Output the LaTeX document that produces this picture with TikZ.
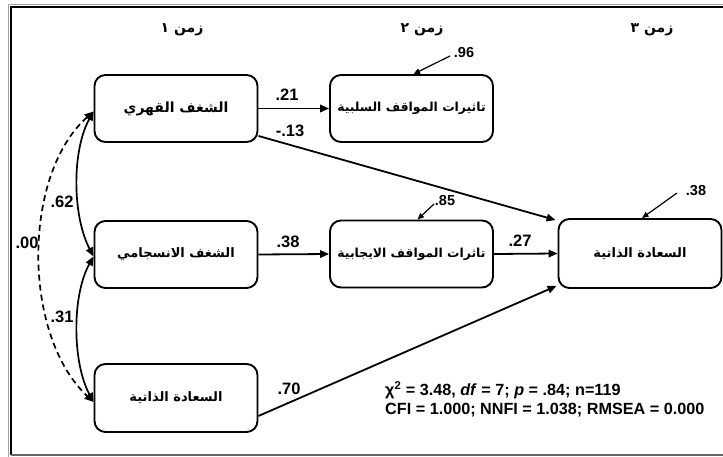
\documentclass[tikz,border=0pt]{standalone}
\usepackage{fontspec}
\setmainfont{Liberation Sans}
\newfontfamily\arabicfont[Script=Arabic]{DejaVu Sans}
\TeXXeTstate=1
\usetikzlibrary{arrows.meta,calc}
\begin{document}
\begin{tikzpicture}[x=1pt,y=-1pt,
  box/.style={draw, line width=1.9pt, rounded corners=11pt, minimum width=163pt, minimum height=67pt, inner sep=0pt,
    font=\arabicfont\bfseries\fontsize{13}{15}\selectfont},
  longtxt/.style={font=\arabicfont\bfseries\fontsize{12.4}{15}\selectfont},
  hdr/.style={inner sep=0pt, font=\arabicfont\bfseries\fontsize{14}{15}\selectfont},
  lab/.style={inner sep=0pt, font=\bfseries\fontsize{16.5}{18}\selectfont},
  slab/.style={inner sep=0pt, font=\bfseries\fontsize{14.5}{15}\selectfont},
  arr/.style={line width=1.8pt, -{Triangle[length=9pt,width=7.5pt]}},
  dbl/.style={line width=1.7pt, {Triangle[length=9pt,width=7.5pt]}-{Triangle[length=9pt,width=7.5pt]}},
  res/.style={line width=1.2pt, -{Triangle[length=6.5pt,width=5.5pt]}},
  stat/.style={inner sep=0pt, anchor=west, font=\bfseries\fontsize{16.2}{17}\selectfont}]
\useasboundingbox (0,0) rectangle (723,457);
\fill[white] (0,0) rectangle (723,457);
% frame
\draw[gray!70, line width=1.6pt] (740,4.5) -- (8.5,4.5) -- (8.5,460);
\draw[black, line width=1.6pt] (740,7) -- (11,7) -- (11,455);
\draw[black!60, line width=1.2pt] (11,455) -- (740,455);
% headers
\node[hdr] (h1) at (182,30) {\beginR زمن ١\endR};
\node[hdr] (h2) at (422,30) {\beginR زمن ٢\endR};
\node[hdr] (h3) at (652,30) {\beginR زمن ٣\endR};
% boxes
\node[box, font=\arabicfont\bfseries\fontsize{14}{15}\selectfont] (A) at (176,108.5) {\beginR الشغف القهري\endR};
\node[box, longtxt] (B) at (411.5,108.5) {\beginR تاثيرات المواقف السلبية\endR};
\node[box] (D) at (176,254.5) {\beginR الشغف الانسجامي\endR};
\node[box, longtxt] (E) at (411.5,254) {\beginR تاثرات المواقف الايجابية\endR};
\node[box, minimum height=69pt] (F) at (640,253.5) {\beginR السعادة الذاتية\endR};
\node[box, minimum height=68pt] (G) at (176,398) {\beginR السعادة الذاتية\endR};
% paths
\draw[arr] (A.east) -- (B.west);
\draw[arr] ([yshift=7pt]A.south east) -- ([yshift=-2pt,xshift=-2pt]F.north west);
\draw[arr] (D.east) -- (E.west);
\draw[arr] (E.east) -- (F.west);
\draw[arr] ([yshift=-18pt]G.east) -- ([yshift=3pt,xshift=-1pt]F.south west);
% correlations
\draw[dbl] ([yshift=-3pt]A.west) .. controls (72,150) and (72,215) .. ([yshift=-2pt]D.west);
\draw[dbl] ([yshift=-2pt]D.west) .. controls (72,295) and (72,362) .. ([yshift=-4pt]G.west);
\draw[dbl, dashed, dash pattern=on 6pt off 4pt] ([yshift=-3pt]A.west) .. controls (22,175) and (22,335) .. ([yshift=-4pt]G.west);
% path labels
\node[lab] (l21) at (287,95) {.21};
\node[lab] (l13) at (290,131) {-.13};
\node[lab] (l38) at (288,242) {.38};
\node[lab] (l27) at (520,241) {.27};
\node[lab] (l70) at (289,389) {.70};
\node[lab] (l62) at (62,202) {.62};
\node[lab] (l00) at (27,243) {.00};
\node[lab] (l31) at (62,317) {.31};
% residuals
\node[slab] (r96) at (464,53) {.96};
\coordinate (t96) at (450,56);
\draw[res] (t96) -- ([xshift=2pt]B.north);
\node[slab] (r85) at (445,201) {.85};
\coordinate (t85) at (434,204);
\draw[res] (t85) -- ([xshift=6pt]E.north);
\node[slab] (r38) at (696,191) {.38};
\coordinate (t38) at (677,193);
\draw[res] (t38) -- ([xshift=2pt]F.north);
% fit statistics
\node[stat] (s1) at (385,390) {χ\textsuperscript{2} = 3.48, \textit{df} = 7; \textit{p} = .84; n=119};
\node[stat] (s2) at (385,410) {CFI = 1.000; NNFI = 1.038; RMSEA = 0.000};
\end{tikzpicture}
\end{document}
